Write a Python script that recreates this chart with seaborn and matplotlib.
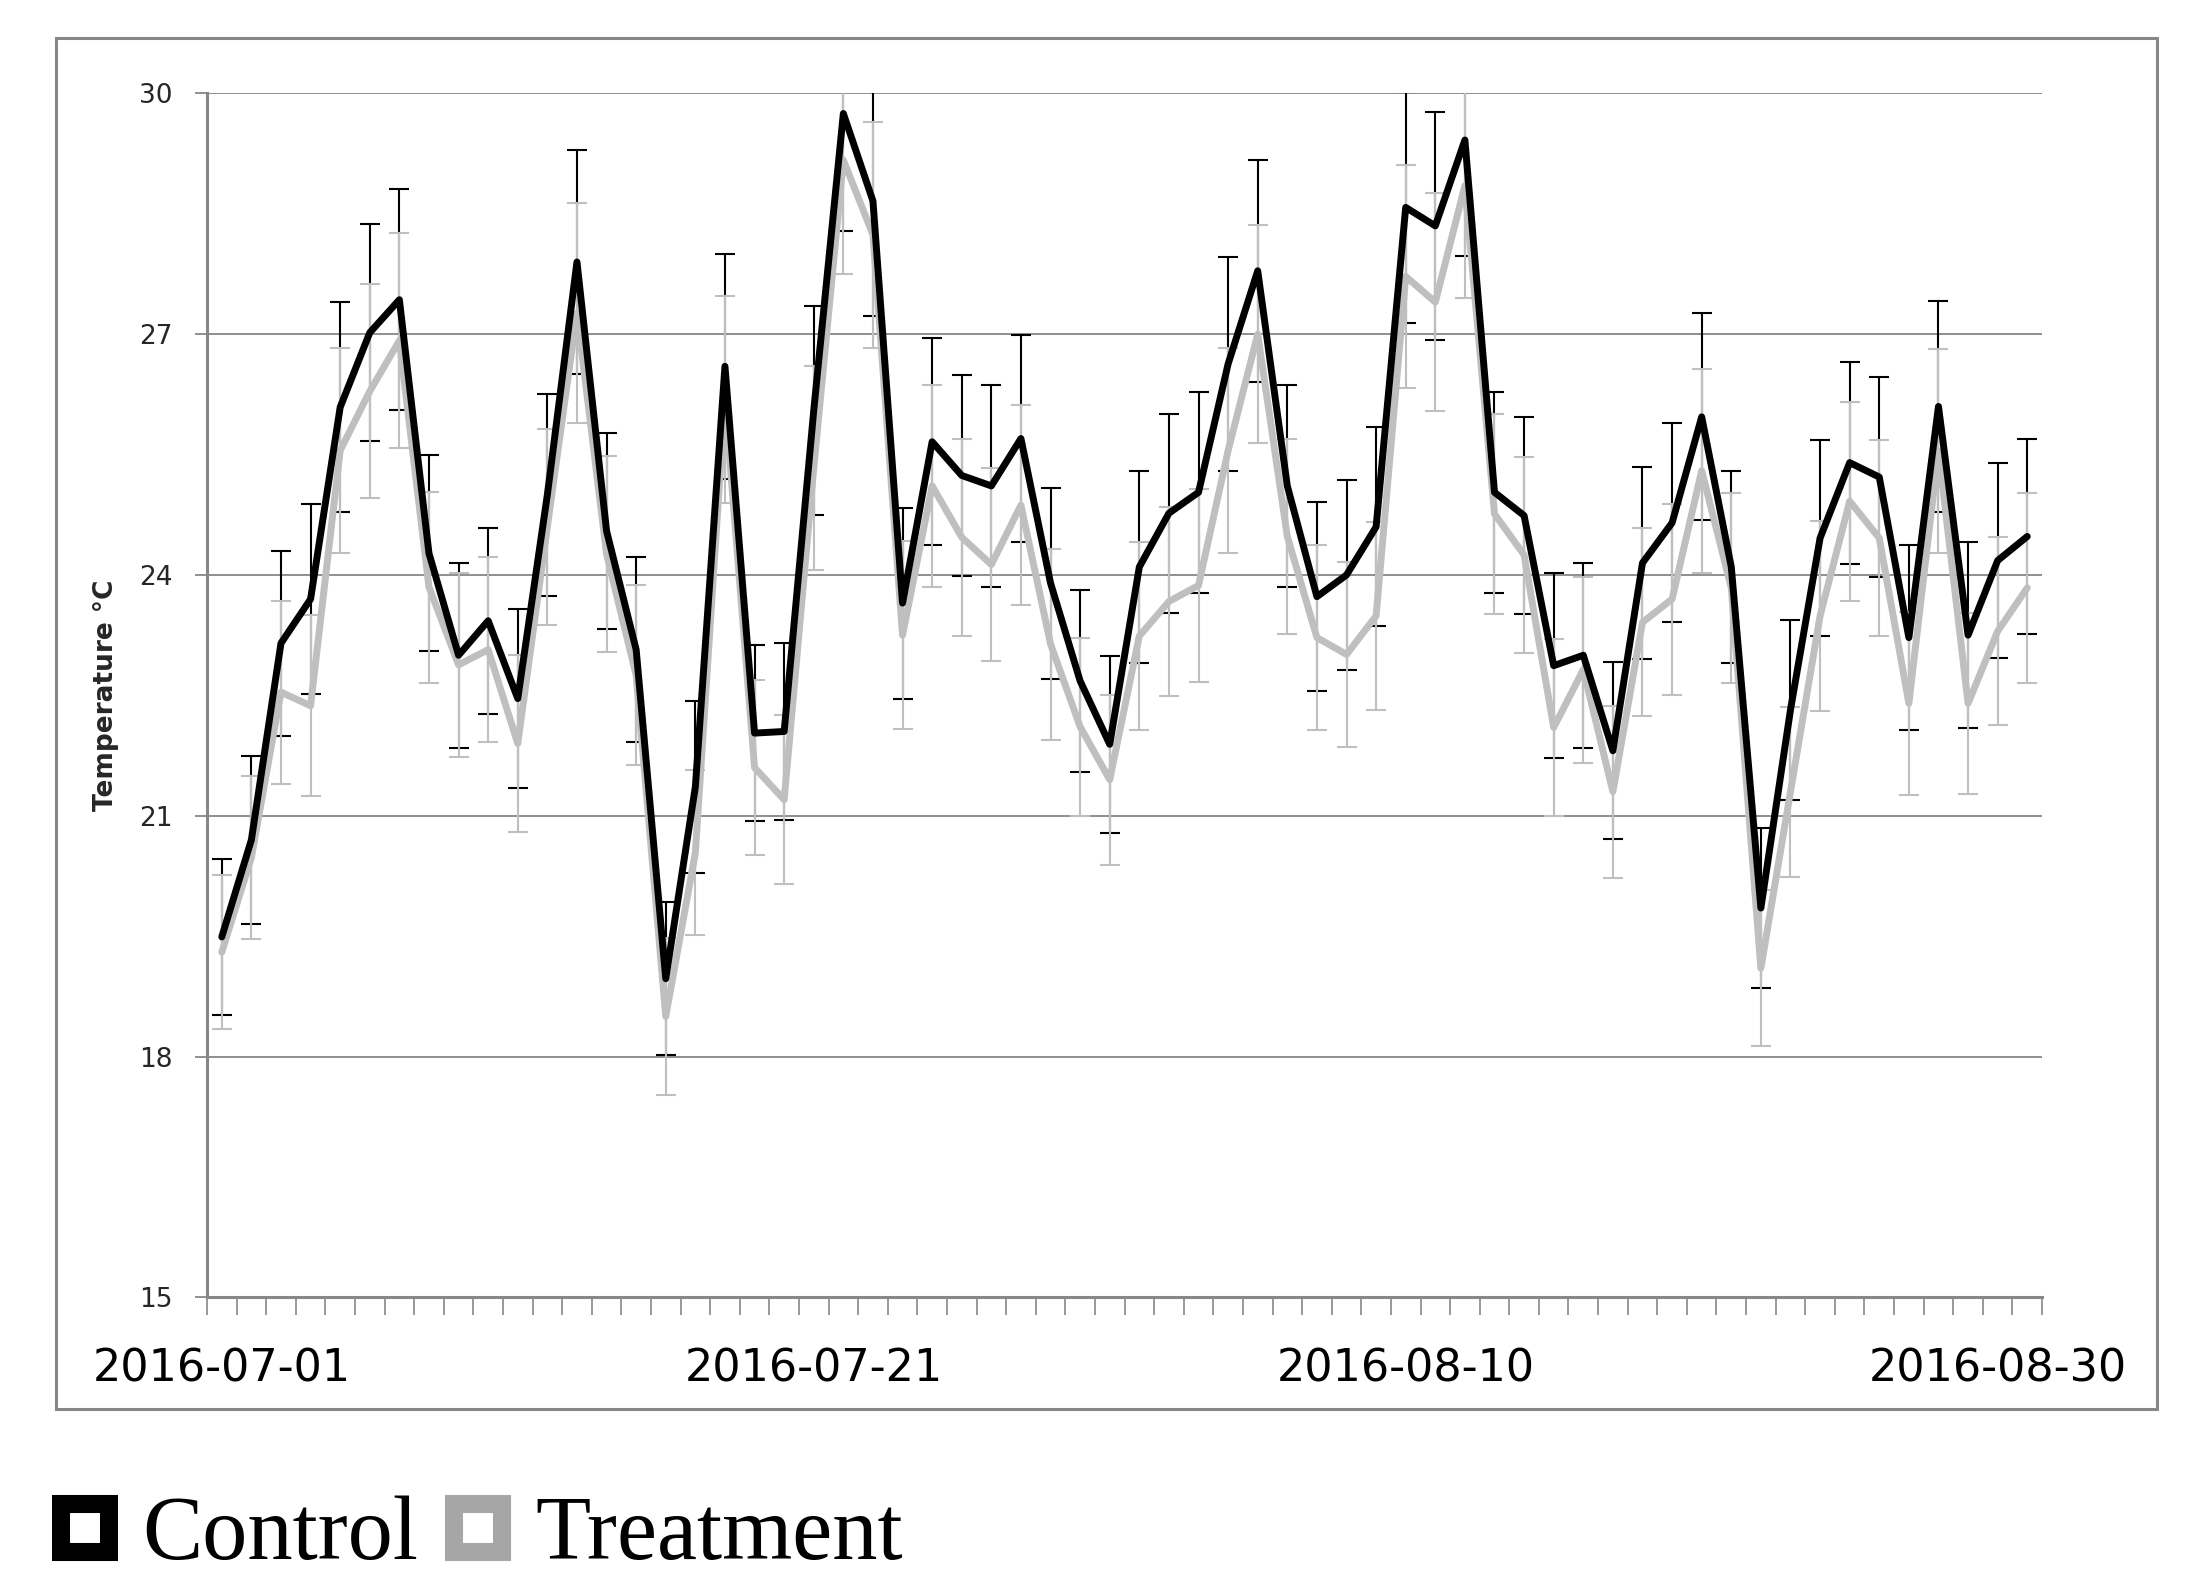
import matplotlib
matplotlib.use('Agg')
import matplotlib.pyplot as plt
import matplotlib.dates as mdates
import matplotlib.ticker as mticker
from matplotlib.lines import Line2D
from matplotlib.patches import Rectangle
import pandas as pd
import seaborn as sns

# daily means and error bars, 2016-07-01 .. 2016-08-31
dates = pd.date_range('2016-07-01', '2016-08-31', freq='D')
control = [19.49, 20.70, 23.15, 23.70, 26.09, 27.02, 27.43, 24.27, 23.00, 23.43,
           22.46, 25.00, 27.90, 24.55, 23.07, 18.97, 21.36, 26.60, 22.03, 22.05,
           26.05, 29.75, 28.66, 23.65, 25.66, 25.24, 25.11, 25.70, 23.90, 22.68,
           21.89, 24.10, 24.77, 25.03, 26.63, 27.79, 25.11, 23.73, 24.00, 24.60,
           28.58, 28.35, 29.42, 25.03, 24.74, 22.87, 23.00, 21.81, 24.15, 24.65,
           25.97, 24.10, 19.85, 22.32, 24.46, 25.40, 25.22, 23.22, 26.10, 23.25,
           24.18, 24.48]
control_err = [0.97, 1.05, 1.15, 1.18, 1.31, 1.35, 1.38, 1.22, 1.15, 1.16,
               1.12, 1.26, 1.40, 1.22, 1.15, 0.95, 1.07, 1.40, 1.10, 1.10,
               1.30, 1.46, 1.43, 1.19, 1.29, 1.25, 1.26, 1.29, 1.19, 1.13,
               1.10, 1.20, 1.24, 1.25, 1.33, 1.38, 1.26, 1.18, 1.18, 1.24,
               1.44, 1.42, 1.45, 1.25, 1.23, 1.15, 1.15, 1.10, 1.20, 1.24,
               1.29, 1.20, 1.00, 1.12, 1.22, 1.26, 1.25, 1.15, 1.32, 1.16,
               1.22, 1.22]
treatment = [19.30, 20.48, 22.54, 22.37, 25.55, 26.29, 26.92, 23.85, 22.88, 23.07,
             21.90, 24.60, 27.26, 24.26, 22.75, 18.50, 20.54, 26.19, 21.60, 21.20,
             25.33, 29.17, 28.24, 23.25, 25.11, 24.47, 24.13, 24.87, 23.14, 22.11,
             21.45, 23.24, 23.67, 23.87, 25.55, 27.00, 24.48, 23.22, 23.01, 23.49,
             27.72, 27.40, 28.85, 24.76, 24.25, 22.10, 22.82, 21.30, 23.41, 23.70,
             25.30, 23.84, 19.10, 21.30, 23.49, 24.92, 24.46, 22.40, 25.55, 22.40,
             23.30, 23.84]
treatment_err = [0.96, 1.02, 1.14, 1.13, 1.28, 1.33, 1.34, 1.19, 1.15, 1.15,
                 1.10, 1.22, 1.37, 1.22, 1.12, 0.98, 1.03, 1.29, 1.09, 1.05,
                 1.27, 1.42, 1.41, 1.17, 1.26, 1.23, 1.20, 1.25, 1.19, 1.11,
                 1.06, 1.17, 1.18, 1.20, 1.28, 1.36, 1.22, 1.15, 1.15, 1.17,
                 1.39, 1.36, 1.40, 1.24, 1.22, 1.10, 1.16, 1.07, 1.17, 1.19,
                 1.27, 1.18, 0.97, 1.06, 1.18, 1.24, 1.22, 1.14, 1.27, 1.13,
                 1.17, 1.18]
tick_dates = ['2016-07-01', '2016-07-21', '2016-08-10', '2016-08-30']
y_ticks = [15, 18, 21, 24, 27, 30]

df = pd.DataFrame({
    'date': list(dates) * 2,
    'temp': control + treatment,
    'group': ['Control'] * len(dates) + ['Treatment'] * len(dates),
})

sns.set_style('white')
plt.rcParams['font.family'] = ['DejaVu Sans']

fig = plt.figure(figsize=(21.88, 15.84), dpi=100)
ax = fig.add_axes([0.0946, 0.181, 0.8387, 0.760])

grey_line = '#bfbfbf'
axis_grey = '#878787'

ax.errorbar(dates, control, yerr=control_err, fmt='none', ecolor='black',
            elinewidth=1.5, capsize=7, capthick=1.5, zorder=2)
ax.errorbar(dates, treatment, yerr=treatment_err, fmt='none', ecolor=grey_line,
            elinewidth=1.5, capsize=7, capthick=1.5, zorder=3)
sns.lineplot(data=df, x='date', y='temp', hue='group',
             hue_order=['Treatment', 'Control'],
             palette={'Control': 'black', 'Treatment': grey_line},
             linewidth=5, legend=False, ax=ax, zorder=4)

half = pd.Timedelta(hours=12)
ax.set_xlim(dates[0] - half, dates[-1] + half)
ax.set_ylim(15, 30)

ax.set_yticks(y_ticks)
ax.yaxis.grid(True, color=axis_grey, linewidth=1.3)
ax.xaxis.grid(False)
ax.tick_params(axis='y', length=9, width=1.3, color=axis_grey, pad=16,
               labelsize=19, labelcolor='#262626', left=True)

ax.xaxis.set_major_locator(mticker.FixedLocator(mdates.date2num(pd.to_datetime(tick_dates))))
ax.xaxis.set_major_formatter(mdates.DateFormatter('%Y-%m-%d'))
edges = list(dates - half) + [dates[-1] + half]
ax.xaxis.set_minor_locator(mticker.FixedLocator(mdates.date2num(pd.DatetimeIndex(edges))))
ax.tick_params(axis='x', which='major', length=0, pad=36, labelsize=32, labelcolor='black')
ax.tick_params(axis='x', which='minor', length=13, width=1.2, color=axis_grey, bottom=True)

for side in ['top', 'right']:
    ax.spines[side].set_visible(False)
for side in ['left', 'bottom']:
    ax.spines[side].set_color(axis_grey)
    ax.spines[side].set_linewidth(2.2)

ax.set_xlabel('')
ax.set_ylabel('Temperature °C', fontsize=19, fontweight='bold', labelpad=14)

# outer chart frame
fig.add_artist(Rectangle((56 / 2188, 1 - 1409 / 1584), (2157 - 56) / 2188, (1409 - 38) / 1584,
                         transform=fig.transFigure, fill=False, edgecolor=axis_grey,
                         linewidth=2.2))

handles = [
    Line2D([], [], linestyle='none', marker='s', markersize=34, markerfacecolor='white',
           markeredgecolor='black', markeredgewidth=13),
    Line2D([], [], linestyle='none', marker='s', markersize=34, markerfacecolor='white',
           markeredgecolor='#a6a6a6', markeredgewidth=13),
]
fig.legend(handles, ['Control', 'Treatment'], loc='center left',
           bbox_to_anchor=(52 / 2188, 1 - 1537 / 1584), ncol=2, frameon=False,
           prop={'family': 'Liberation Serif', 'size': 65}, labelcolor='black',
           handlelength=0.72, handletextpad=0.28, columnspacing=0.3, borderpad=0,
           borderaxespad=0)

fig.savefig('out.png', dpi=100)
